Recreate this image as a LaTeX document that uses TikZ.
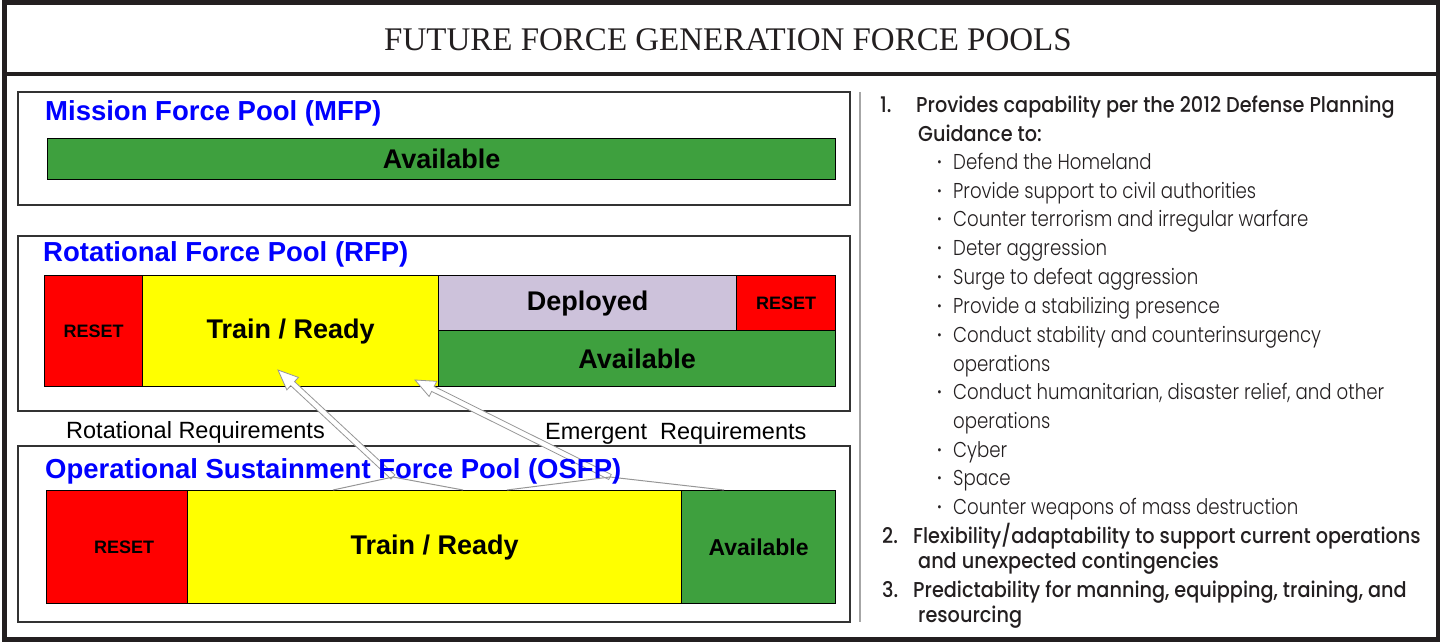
\documentclass[tikz,border=0pt]{standalone}
\usepackage{fontspec}
\setmainfont{Liberation Sans}
\newfontfamily\titlefont{Liberation Serif}
\newfontfamily\listlight{Poppins Light}[FakeStretch=0.845]
\newfontfamily\listmed{Poppins Medium}[FakeStretch=0.895]
\usetikzlibrary{calc}

\definecolor{poolred}{RGB}{255,0,0}
\definecolor{poolyellow}{RGB}{255,255,0}
\definecolor{poolgreen}{RGB}{62,160,62}
\definecolor{poollilac}{RGB}{205,194,219}
\definecolor{poolblue}{RGB}{0,0,255}
\definecolor{frame}{RGB}{35,31,32}
\definecolor{arrowgray}{RGB}{150,150,150}

% hollow block arrow from base to tip
\newcommand{\blockarrow}[2]{%
  \coordinate (#1neck) at ($(#2)!20pt!(#1)$);
  \draw[arrowline] ($(#1)!2.8pt!90:(#2)$) -- ($(#1neck)!2.8pt!90:(#2)$)
    -- ($(#1neck)!8.5pt!90:(#2)$) -- (#2) -- ($(#1neck)!8.5pt!-90:(#2)$)
    -- ($(#1neck)!2.8pt!-90:(#2)$) -- ($(#1)!2.8pt!-90:(#2)$) -- cycle;
}

\begin{document}
\begin{tikzpicture}[x=1pt, y=-1pt,
  cell/.style={draw=black, line width=1.2pt, inner sep=0pt, anchor=north west},
  poolbox/.style={draw=black!80, line width=1.8pt},
  pooltitle/.style={anchor=base west, inner sep=0pt, text=poolblue, font=\bfseries\fontsize{27.5}{30}\selectfont},
  reqlabel/.style={anchor=base west, inner sep=0pt, font=\fontsize{23.5}{26}\selectfont},
  listline/.style={anchor=base west, inner sep=0pt, text=frame, font=\listlight\fontsize{21.5}{24}\selectfont},
  listhead/.style={anchor=base west, inner sep=0pt, text=frame, font=\listmed\fontsize{21.5}{24}\selectfont},
  arrowline/.style={draw=arrowgray, fill=white, line width=0.8pt},
  wedgeline/.style={draw=arrowgray, line width=1pt}
]
\useasboundingbox (0,0) rectangle (1440,644);

% outer frame and title band
\draw[frame, line width=5pt] (4.5,2.5) rectangle (1438,639.5);
\draw[frame, line width=3.5pt] (4.5,74) -- (1438,74);
\node[font=\titlefont\fontsize{33}{36}\selectfont, text=frame] (title) at (728,40) {FUTURE FORCE GENERATION FORCE POOLS};

% pool boxes
\draw[poolbox] (18,92) rectangle (850,205);
\draw[poolbox] (18,236) rectangle (850,411);
\draw[poolbox] (18,446) rectangle (850,622);
\draw[black!35, line width=1.2pt] (860,92) -- (860,622);

% pool cells
\foreach \name/\x/\y/\w/\h/\col/\txt/\fs in {
    mfpavail/47/138/788/41/poolgreen/Available/27,
    rfpreset/44/275/98/111/poolred/RESET/18,
    rfptrain/142/275/296/111/poolyellow/{Train / Ready}/27,
    rfpdeploy/438/275/298/55/poollilac/Deployed/27,
    rfpreset2/736/275/99/55/poolred/RESET/18,
    rfpavail/438/330/397/56/poolgreen/Available/27,
    osfpreset/46/490/141/113/poolred/{\hspace{14pt}RESET}/18,
    osfptrain/187/490/494/113/poolyellow/{Train / Ready}/27,
    osfpavail/681/490/154/113/poolgreen/Available/23
} {
    \node[cell, fill=\col, minimum width=\w pt, minimum height=\h pt,
          font=\bfseries\fontsize{\fs}{\fs}\selectfont] (\name) at (\x,\y) {\txt};
}

% requirement arrows
\coordinate (rotbase) at (393,477);
\coordinate (rottip) at (278,370);
\coordinate (embase) at (610,477);
\coordinate (emtip) at (415,380);
\coordinate (rotleft) at (333,490);
\coordinate (rotright) at (463,490);
\coordinate (emleft) at (507,490);
\coordinate (emright) at (724,490);
\blockarrow{rotbase}{rottip}
\blockarrow{embase}{emtip}
\draw[wedgeline] (rotleft) -- (rotbase) -- (rotright);
\draw[wedgeline] (emleft) -- (embase) -- (emright);

% pool titles and labels
\node[pooltitle] (mfptitle) at (45,121) {Mission Force Pool (MFP)};
\node[pooltitle] (rfptitle) at (43,262) {Rotational Force Pool (RFP)};
\node[pooltitle] (osfptitle) at (45,478) {Operational Sustainment Force Pool (OSFP)};
\node[reqlabel] (rotreq) at (66,438) {Rotational Requirements};
\node[reqlabel] (emreq) at (545,439) {Emergent\ \ Requirements};

% numbered list
\node[listhead] (num1) at (880,113) {1.};
\node[listhead] (item1a) at (916,113) {Provides capability per the 2012 Defense Planning};
\node[listhead] (item1b) at (918,142) {Guidance to:};
\node[listhead] (num2) at (882,543) {2.};
\node[listhead] (item2a) at (913,543) {Flexibility/adaptability to support current operations};
\node[listhead] (item2b) at (918,568) {and unexpected contingencies};
\node[listhead] (num3) at (882,597) {3.};
\node[listhead] (item3a) at (913,597) {Predictability for manning, equipping, training, and};
\node[listhead] (item3b) at (918,622) {resourcing};

% bullet points
\foreach \y/\txt [count=\i] in {
    170/Defend the Homeland,
    199/Provide support to civil authorities,
    227/Counter terrorism and irregular warfare,
    256/Deter aggression,
    285/Surge to defeat aggression,
    313/Provide a stabilizing presence,
    342/Conduct stability and counterinsurgency,
    399/{Conduct humanitarian, disaster relief, and other},
    457/Cyber,
    485/Space,
    514/Counter weapons of mass destruction
} {
    \node[listline] (bullet\i) at (937,\y) {\makebox[16pt][l]{\listmed ·}\txt};
}
\node[listline] (wrap1) at (953,371) {operations};
\node[listline] (wrap2) at (953,428) {operations};
\end{tikzpicture}
\end{document}
